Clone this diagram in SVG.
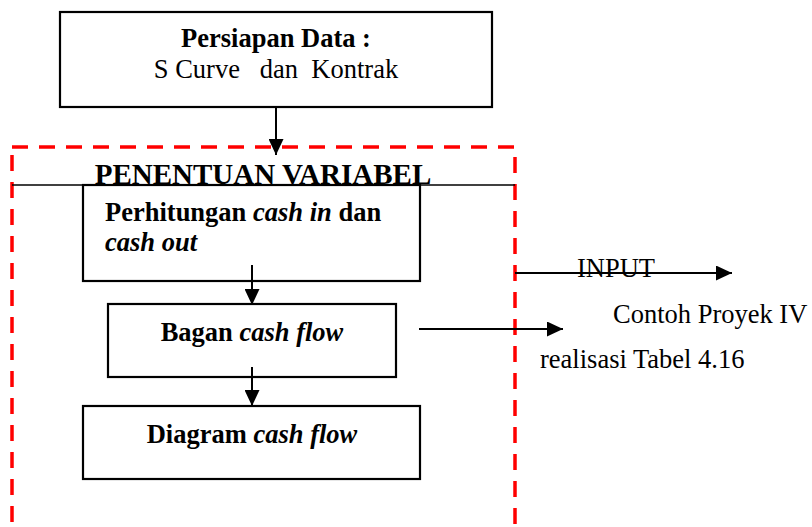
<svg xmlns="http://www.w3.org/2000/svg" width="812" height="527" viewBox="0 0 812 527">
  <style>
    .box { fill: #ffffff; stroke: #000000; stroke-width: 2.2; }
    .conn { stroke: #000000; stroke-width: 2; fill: none; }
    .t { font-family: "Liberation Serif", "Times New Roman", "DejaVu Serif", serif; font-size: 26.5px; fill: #000000; }
    .b { font-weight: bold; }
    .i { font-style: italic; }
    .zone { fill: none; stroke: #ff0000; stroke-width: 3.5; stroke-dasharray: 16 11; }
  </style>
  <defs>
    <marker id="arrow" markerUnits="userSpaceOnUse" markerWidth="16" markerHeight="15" refX="16" refY="7.5" orient="auto">
      <path d="M0,0 L16,7.5 L0,15 Z" fill="#000000"/>
    </marker>
  </defs>

  <rect width="812" height="527" fill="#ffffff"/>

  <!-- data preparation box -->
  <g id="persiapan-data">
    <rect class="box" x="60" y="12" width="432" height="95"/>
    <text class="t b" x="276" y="47" text-anchor="middle">Persiapan Data :</text>
    <text class="t" x="276" y="78" text-anchor="middle" xml:space="preserve">S Curve   dan  Kontrak</text>
  </g>

  <!-- variable determination zone -->
  <g id="penentuan-variabel">
    <rect class="zone" x="12" y="147" width="503" height="400"/>
    <line x1="12" y1="185" x2="515" y2="185" stroke="#000000" stroke-width="1.6"/>
    <text class="t b" x="263" y="184" text-anchor="middle" style="font-size:29px">PENENTUAN VARIABEL</text>
  </g>

  <g id="perhitungan">
    <rect class="box" x="83" y="185" width="337" height="96"/>
    <text class="t b" x="105" y="221">Perhitungan <tspan class="i">cash in</tspan> dan</text>
    <text class="t b i" x="105" y="251">cash out</text>
  </g>

  <g id="bagan">
    <rect class="box" x="108" y="304" width="288" height="73"/>
    <text class="t b" x="252" y="341" text-anchor="middle">Bagan <tspan class="i">cash flow</tspan></text>
  </g>

  <g id="diagram">
    <rect class="box" x="83" y="406" width="337" height="73"/>
    <text class="t b" x="252" y="443" text-anchor="middle">Diagram <tspan class="i">cash flow</tspan></text>
  </g>

  <!-- side labels -->
  <g id="labels">
    <text class="t" x="577" y="277">INPUT</text>
    <text class="t" x="613" y="323">Contoh Proyek IV</text>
    <text class="t" x="540" y="368">realisasi Tabel 4.16</text>
  </g>

  <!-- connectors -->
  <g id="connectors">
    <line class="conn" x1="276" y1="107" x2="276" y2="155" marker-end="url(#arrow)"/>
    <line class="conn" x1="252" y1="265" x2="252" y2="305" marker-end="url(#arrow)"/>
    <line class="conn" x1="252" y1="367" x2="252" y2="406" marker-end="url(#arrow)"/>
    <line class="conn" x1="419" y1="329" x2="563" y2="329" marker-end="url(#arrow)"/>
    <line class="conn" x1="515" y1="273" x2="732" y2="273" marker-end="url(#arrow)"/>
  </g>
</svg>
